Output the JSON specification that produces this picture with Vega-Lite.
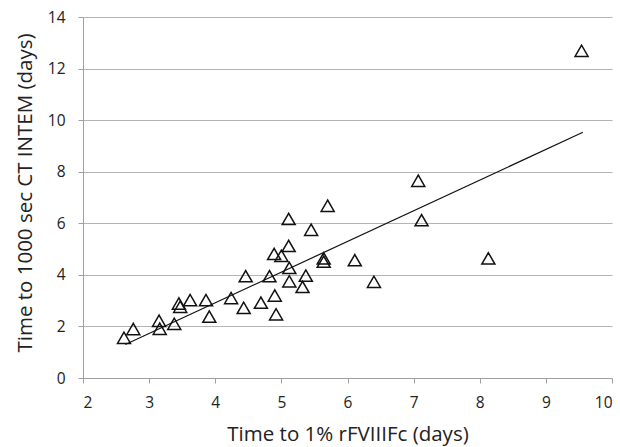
{
  "$schema": "https://vega.github.io/schema/vega-lite/v6.json",
  "width": 529,
  "height": 361,
  "autosize": "none",
  "padding": {"left": 83, "top": 17, "right": 8, "bottom": 69},
  "background": "white",
  "config": {
    "view": {"stroke": null},
    "font": "Open Sans",
    "axis": {
      "labelFont": "Open Sans",
      "titleFont": "Open Sans",
      "labelColor": "#222",
      "titleColor": "#222",
      "titleFontWeight": "normal",
      "labelFontSize": 15.5,
      "titleFontSize": 20.5,
      "domainColor": "#a0a0a0",
      "tickColor": "#a0a0a0",
      "gridColor": "#b4b4b4",
      "tickSize": 5
    }
  },
  "datasets": {
    "pts": [
      {"t1": 2.62, "tc": 1.56},
      {"t1": 2.76, "tc": 1.90},
      {"t1": 3.15, "tc": 2.22},
      {"t1": 3.16, "tc": 1.91},
      {"t1": 3.38, "tc": 2.10},
      {"t1": 3.45, "tc": 2.89},
      {"t1": 3.47, "tc": 2.76},
      {"t1": 3.62, "tc": 3.02},
      {"t1": 3.86, "tc": 3.02},
      {"t1": 3.91, "tc": 2.38},
      {"t1": 4.24, "tc": 3.10},
      {"t1": 4.43, "tc": 2.72},
      {"t1": 4.46, "tc": 3.95},
      {"t1": 4.69, "tc": 2.92},
      {"t1": 4.82, "tc": 3.95},
      {"t1": 4.90, "tc": 3.20},
      {"t1": 4.92, "tc": 2.47},
      {"t1": 4.89, "tc": 4.81},
      {"t1": 5.00, "tc": 4.74},
      {"t1": 5.11, "tc": 5.12},
      {"t1": 5.11, "tc": 6.17},
      {"t1": 5.12, "tc": 4.27},
      {"t1": 5.12, "tc": 3.75},
      {"t1": 5.32, "tc": 3.53},
      {"t1": 5.37, "tc": 3.97},
      {"t1": 5.45, "tc": 5.75},
      {"t1": 5.70, "tc": 6.68},
      {"t1": 5.64, "tc": 4.64},
      {"t1": 5.64, "tc": 4.51},
      {"t1": 6.11, "tc": 4.57},
      {"t1": 6.40, "tc": 3.73},
      {"t1": 7.07, "tc": 7.65},
      {"t1": 7.12, "tc": 6.12},
      {"t1": 8.13, "tc": 4.64},
      {"t1": 9.54, "tc": 12.69}
    ],
    "trend": [
      {"t1": 2.64, "tc": 1.30},
      {"t1": 9.56, "tc": 9.53}
    ]
  },
  "layer": [
    {
      "data": {"name": "trend"},
      "mark": {"type": "line", "color": "#111", "strokeWidth": 1.2},
      "encoding": {
        "x": {
          "field": "t1", "type": "quantitative",
          "scale": {"domain": [2, 10], "nice": false, "zero": false},
          "axis": {
            "title": "Time to 1% rFVIIIFc (days)",
            "values": [2, 3, 4, 5, 6, 7, 8, 9, 10],
            "format": "d",
            "grid": false,
            "labelBaseline": "alphabetic",
            "labelPadding": 24,
            "titleY": 62,
            "titleBaseline": "alphabetic"
          }
        },
        "y": {
          "field": "tc", "type": "quantitative",
          "scale": {"domain": [0, 14], "nice": false},
          "axis": {
            "title": "Time to 1000 sec CT INTEM (days)",
            "values": [0, 2, 4, 6, 8, 10, 12, 14],
            "format": "d",
            "grid": true,
            "labelPadding": 13,
            "titleX": -52,
            "titleY": 175.5,
            "titleAlign": "center",
            "titleBaseline": "alphabetic"
          }
        }
      }
    },
    {
      "data": {"name": "pts"},
      "mark": {"type": "point", "shape": "triangle-up", "filled": false, "stroke": "#111", "strokeWidth": 1.5, "size": 170, "opacity": 1},
      "encoding": {
        "x": {"field": "t1", "type": "quantitative"},
        "y": {"field": "tc", "type": "quantitative"}
      }
    }
  ]
}
